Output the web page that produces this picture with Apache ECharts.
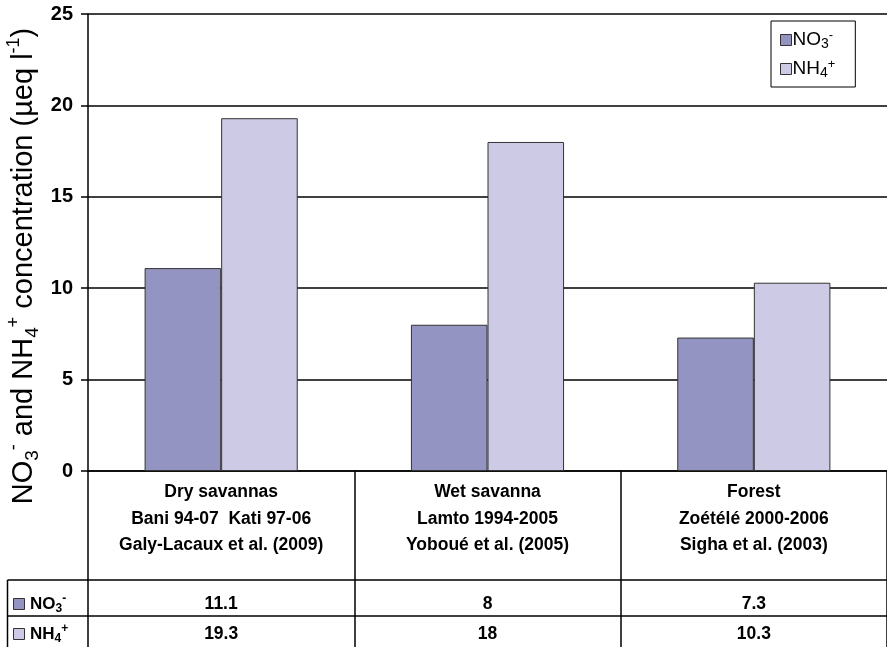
<!DOCTYPE html>
<html><head><meta charset="utf-8">
<script src="https://cdn.jsdelivr.net/npm/echarts@6/dist/echarts.min.js"></script>
<style>html,body{margin:0;padding:0;background:#fff}#c{width:887px;height:647px}</style>
</head><body><div id="c"></div>
<script>
var categories = ['Dry savannas\nBani 94-07  Kati 97-06\nGaly-Lacaux et al. (2009)',
                  'Wet savanna\nLamto 1994-2005\nYoboué et al. (2005)',
                  'Forest\nZoétélé 2000-2006\nSigha et al. (2003)'];
var no3 = [11.1, 8, 7.3];
var nh4 = [19.3, 18, 10.3];
var yTicks = [0, 5, 10, 15, 20, 25];
var seriesNames = ['NO3-', 'NH4+'];
var colors = ['#9494c2', '#cccae4'];

var FONT = 'Liberation Sans, Arial, sans-serif';
var richLegend = {
  n: {fontSize: 19, fontFamily: FONT, color: '#000', lineHeight: 22},
  sub: {fontSize: 14, fontFamily: FONT, color: '#000', verticalAlign: 'bottom', lineHeight: 22},
  sup: {fontSize: 13, fontFamily: FONT, color: '#000', verticalAlign: 'top', lineHeight: 16}
};
function fmtName(name) {
  if (name === 'NO3-') return '{n|NO}{sub|3}{sup|-}';
  return '{n|NH}{sub|4}{sup|+}';
}
var chart = echarts.init(document.getElementById('c'));
var option = {
  animation: false,
  backgroundColor: '#fff',
  grid: {left: 88, right: 0, top: 14, bottom: 176},
  legend: {
    orient: 'vertical', left: 771, top: 21,
    data: seriesNames,
    icon: 'rect', itemWidth: 11, itemHeight: 11, itemGap: 7,
    padding: [8, 20, 7, 9],
    borderColor: '#000', borderWidth: 1, backgroundColor: '#fff',
    itemStyle: {borderColor: '#333', borderWidth: 1},
    formatter: fmtName,
    textStyle: {rich: richLegend, padding: [0, 0, 0, -4]}
  },
  xAxis: [
    {type: 'category', data: categories, position: 'bottom',
     axisLine: {show: true, lineStyle: {color: '#000', width: 1.5}},
     axisTick: {show: true, length: 109, lineStyle: {color: '#000', width: 1.5}},
     axisLabel: {interval: 0, margin: 8, color: '#000', fontWeight: 'bold', fontSize: 17.5, fontFamily: FONT, lineHeight: 26.5}},
    {type: 'category', data: no3.map(String), position: 'bottom', offset: 109, gridIndex: 0,
     axisLine: {show: true, lineStyle: {color: '#000', width: 1.5}},
     axisTick: {show: true, length: 36, lineStyle: {color: '#000', width: 1.5}},
     axisLabel: {interval: 0, margin: 15, color: '#000', fontWeight: 'bold', fontSize: 17.5, fontFamily: FONT}},
    {type: 'category', data: nh4.map(String), position: 'bottom', offset: 145, gridIndex: 0,
     axisLine: {show: true, lineStyle: {color: '#000', width: 1.5}},
     axisTick: {show: true, length: 40, lineStyle: {color: '#000', width: 1.5}},
     axisLabel: {interval: 0, margin: 9, color: '#000', fontWeight: 'bold', fontSize: 17.5, fontFamily: FONT}}
  ],
  yAxis: {
    type: 'value', min: yTicks[0], max: yTicks[yTicks.length - 1], interval: 5,
    axisLine: {show: true, lineStyle: {color: '#000', width: 1.5}},
    axisTick: {show: true, length: 7, lineStyle: {color: '#000', width: 1.5}},
    splitLine: {show: true, lineStyle: {color: '#000', width: 1.5}},
    axisLabel: {margin: 15, color: '#000', fontWeight: 'bold', fontSize: 20, fontFamily: FONT}
  },
  series: [
    {name: seriesNames[0], type: 'bar', xAxisIndex: 0, data: no3, barGap: '0%', barCategoryGap: '42.5%',
     itemStyle: {color: colors[0], borderColor: '#333', borderWidth: 1}},
    {name: seriesNames[1], type: 'bar', xAxisIndex: 0, data: nh4, barGap: '0%', barCategoryGap: '42.5%',
     itemStyle: {color: colors[1], borderColor: '#333', borderWidth: 1}}
  ],
  graphic: [
    {type: 'text', x: 24, y: 266, rotation: Math.PI / 2,
     style: {
       text: '{n|NO}{sub|3}{sup|-}{n| and NH}{sub|4}{sup|+}{n| concentration (µeq l}{sup|-1}{n|)}',
       align: 'center', verticalAlign: 'middle',
       rich: {
         n: {fontSize: 29, fontFamily: FONT, fill: '#000', lineHeight: 37},
         sub: {fontSize: 19, fontFamily: FONT, fill: '#000', verticalAlign: 'bottom', lineHeight: 35},
         sup: {fontSize: 18, fontFamily: FONT, fill: '#000', verticalAlign: 'top', lineHeight: 22}
       }
     }},
    {type: 'line', shape: {x1: 7.5, y1: 580, x2: 88, y2: 580}, style: {stroke: '#000', lineWidth: 1.5}},
    {type: 'line', shape: {x1: 7.5, y1: 616, x2: 88, y2: 616}, style: {stroke: '#000', lineWidth: 1.5}},
    {type: 'line', shape: {x1: 7.5, y1: 580, x2: 7.5, y2: 647}, style: {stroke: '#000', lineWidth: 1.5}},
    {type: 'rect', shape: {x: 13.5, y: 598.5, width: 11, height: 11}, style: {fill: colors[0], stroke: '#333', lineWidth: 1}},
    {type: 'rect', shape: {x: 13.5, y: 628.5, width: 11, height: 11}, style: {fill: colors[1], stroke: '#333', lineWidth: 1}},
    {type: 'text', x: 30, y: 604, style: {text: '{n|NO}{sub|3}{sup|-}', verticalAlign: 'middle',
      rich: {n: {fontSize: 17, fontWeight: 'bold', fontFamily: FONT, fill: '#000', lineHeight: 22},
             sub: {fontSize: 12, fontWeight: 'bold', fontFamily: FONT, fill: '#000', verticalAlign: 'bottom', lineHeight: 22},
             sup: {fontSize: 12, fontWeight: 'bold', fontFamily: FONT, fill: '#000', verticalAlign: 'top', lineHeight: 15}}}},
    {type: 'text', x: 30, y: 634, style: {text: '{n|NH}{sub|4}{sup|+}', verticalAlign: 'middle',
      rich: {n: {fontSize: 17, fontWeight: 'bold', fontFamily: FONT, fill: '#000', lineHeight: 22},
             sub: {fontSize: 12, fontWeight: 'bold', fontFamily: FONT, fill: '#000', verticalAlign: 'bottom', lineHeight: 22},
             sup: {fontSize: 12, fontWeight: 'bold', fontFamily: FONT, fill: '#000', verticalAlign: 'top', lineHeight: 15}}}}
  ]
};
chart.setOption(option);
</script></body></html>
